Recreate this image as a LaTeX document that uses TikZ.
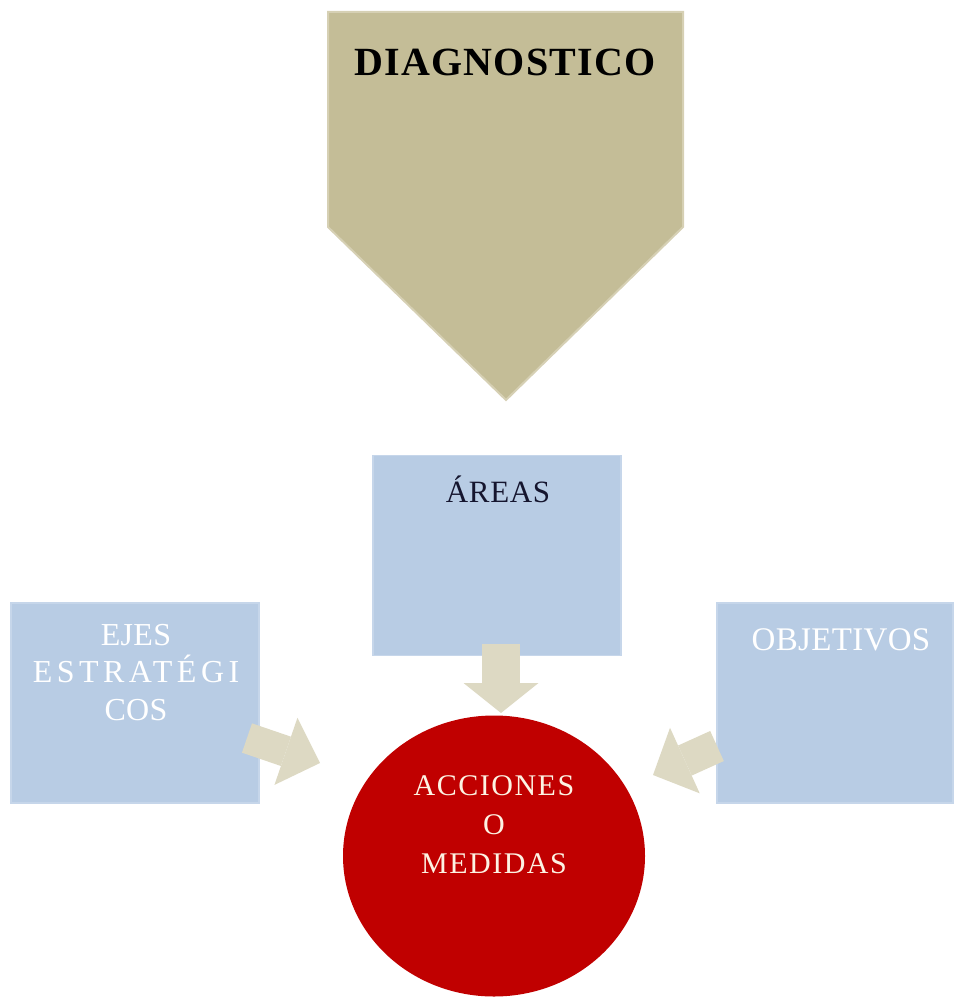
\documentclass[tikz,border=0pt]{standalone}
\usepackage{fontspec}
\setmainfont{Liberation Serif}
\usepackage{tikz}
\usetikzlibrary{arrows.meta,positioning,shapes.geometric}
\definecolor{diagtan}{HTML}{C4BD97}
\definecolor{diagedge}{HTML}{D6D0B4}
\definecolor{boxblue}{HTML}{B8CCE4}
\definecolor{boxedge}{HTML}{C6D6EA}
\definecolor{arrowtan}{HTML}{DDD9C3}
\definecolor{accred}{HTML}{C00000}
\definecolor{navytext}{HTML}{15152E}
\definecolor{creamtext}{HTML}{FDF3E3}

\begin{document}
\begin{tikzpicture}[x=1pt,y=-1pt,
  panel/.style={fill=boxblue,draw=boxedge,line width=1.5pt,inner sep=0pt,minimum height=200pt},
  boxtext/.style={inner sep=0pt,align=center},
  fatarrow/.style n args={3}{draw=arrowtan,line width=#1,-{Triangle[width=#2,length=#3,line width=0pt]}}]
\path[use as bounding box] (0,0) rectangle (953,998);
\filldraw[fill=diagtan,draw=diagedge,line width=2pt] (328,12) -- (683,12) -- (683,227) -- (506,400) -- (328,227) -- cycle;
\node[boxtext,anchor=base,font=\fontsize{40}{44}\selectfont\bfseries\addfontfeature{LetterSpace=3}] (diag) at (505,75) {DIAGNOSTICO};

\node[panel,minimum width=248pt] (areas) at (497,555.5) {};
\node[panel,minimum width=248pt] (ejes) at (135,703) {};
\node[panel,minimum width=236pt] (objetivos) at (835,703) {};

\coordinate (areasout) at (501,644);
\coordinate (acctop) at (501,713);
\coordinate (ejesout) at (247,738);
\coordinate (accleft) at (320,763);
\coordinate (objout) at (717,746);
\coordinate (accright) at (653,775);
\draw[fatarrow={38pt}{75pt}{30pt}] (areasout) -- (acctop);
\draw[fatarrow={31pt}{71pt}{36pt}] (ejesout) -- (accleft);
\draw[fatarrow={33pt}{72pt}{35pt}] (objout) -- (accright);

\node[ellipse,fill=accred,inner sep=0pt,minimum width=302pt,minimum height=281pt] (acc) at (494,856) {};

\node[boxtext,anchor=base,text=navytext,font=\fontsize{31}{35}\selectfont\addfontfeature{LetterSpace=2}] (areastxt) at (498,502) {ÁREAS};
\node[boxtext,anchor=base,text=white,font=\fontsize{33}{37}\selectfont\addfontfeature{LetterSpace=1}] (objtxt) at (841,650) {OBJETIVOS};
\node[boxtext,text=white,font=\fontsize{32}{37.5}\selectfont\addfontfeature{LetterSpace=1}] (ejestxt) at (136,672.5) {EJES\\{\addfontfeature{LetterSpace=14}ESTRATÉGI}\\COS};
\node[boxtext,text=creamtext,font=\fontsize{30}{39}\selectfont\addfontfeature{LetterSpace=5}] (acctxt) at (494,825) {ACCIONES\\O\\MEDIDAS};
\end{tikzpicture}
\end{document}
